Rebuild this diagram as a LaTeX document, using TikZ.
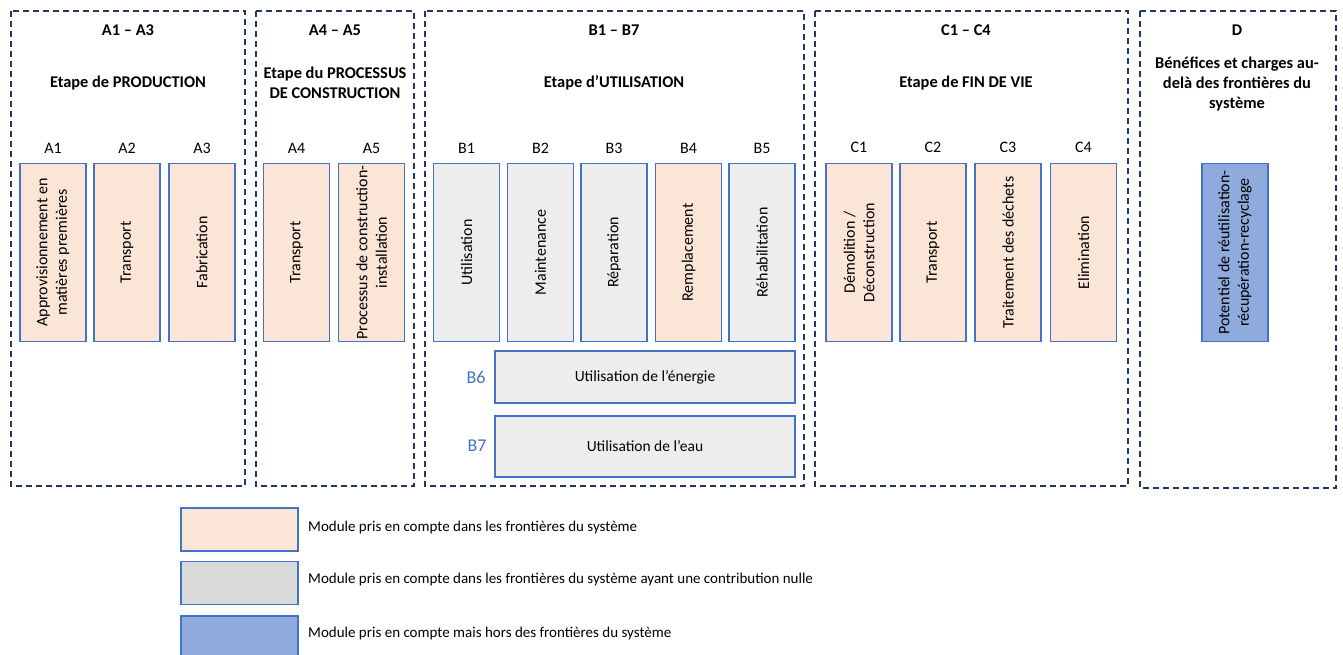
\documentclass[tikz,border=0pt]{standalone}
\usepackage{fontspec}
\setmainfont{Carlito}
\definecolor{peach}{HTML}{FBE5D6}
\definecolor{greymod}{HTML}{EDEDED}
\definecolor{greyleg}{HTML}{D9D9D9}
\definecolor{bluemod}{HTML}{8FAADC}
\definecolor{edgeblue}{HTML}{4472C4}
\definecolor{framecol}{HTML}{203864}
\begin{document}
\begin{tikzpicture}[x=1pt, y=-1pt,
  frame/.style={draw=framecol, line width=1.6pt, dash pattern=on 6pt off 4pt},
  head/.style={font=\fontsize{16.4}{20}\selectfont\bfseries, align=center},
  lab/.style={font=\fontsize{16}{18}\selectfont},
  modbox/.style={draw=edgeblue, line width=1.5pt, rotate=90, minimum width=178pt, minimum height=66pt, align=center, inner sep=1pt, font=\fontsize{16}{19.5}\selectfont},
  wide/.style={draw=edgeblue, line width=1.5pt, fill=greymod, minimum width=300pt, font=\fontsize{15.5}{18}\selectfont},
  legbox/.style={draw=edgeblue, line width=1.5pt, minimum width=117pt, minimum height=43pt},
  legtext/.style={anchor=west, font=\fontsize{15}{17}\selectfont, inner sep=0pt}]
\useasboundingbox (0,0) rectangle (1343,655);
\draw[frame] (11,11) rectangle (245,486);
\draw[frame] (256,11) rectangle (414,486);
\draw[frame] (425,11) rectangle (804,486);
\draw[frame] (815,11) rectangle (1128,486);
\draw[frame] (1140,11) rectangle (1336,488);
\node[head] (hA13) at (128,30) {A1 -- A3};
\node[head] (tA13) at (128,83) {Etape de PRODUCTION};
\node[head] (hA45) at (335,30) {A4 -- A5};
\node[head] (tA45) at (335,83) {Etape du PROCESSUS\\DE CONSTRUCTION};
\node[head] (hB17) at (614,30) {B1 -- B7};
\node[head] (tB17) at (614,83) {Etape d’UTILISATION};
\node[head] (hC14) at (966,30) {C1 -- C4};
\node[head] (tC14) at (966,83) {Etape de FIN DE VIE};
\node[head] (hD) at (1237,30) {D};
\node[head] (tD) at (1237,84) {Bénéfices et charges au-\\delà des frontières du\\système};
\node[lab] (lA1) at (53,148) {A1};
\node[lab] (lA2) at (127,148) {A2};
\node[lab] (lA3) at (202,148) {A3};
\node[lab] (lA4) at (296.5,148) {A4};
\node[lab] (lA5) at (371.5,148) {A5};
\node[lab] (lB1) at (466.5,148) {B1};
\node[lab] (lB2) at (540.5,148) {B2};
\node[lab] (lB3) at (614,148) {B3};
\node[lab] (lB4) at (688.5,148) {B4};
\node[lab] (lB5) at (762,148) {B5};
\node[lab] (lC1) at (859,147) {C1};
\node[lab] (lC2) at (933,147) {C2};
\node[lab] (lC3) at (1008,147) {C3};
\node[lab] (lC4) at (1083.5,147) {C4};
\node[modbox, fill=peach] (mA1) at (53,252.5) {Approvisionnement en\\matières premières};
\node[modbox, fill=peach] (mA2) at (127,252.5) {Transport};
\node[modbox, fill=peach] (mA3) at (202,252.5) {Fabrication};
\node[modbox, fill=peach] (mA4) at (296.5,252.5) {Transport};
\node[modbox, fill=peach] (mA5) at (371.5,252.5) {Processus de construction-\\installation};
\node[modbox, fill=greymod] (mB1) at (466.5,252.5) {Utilisation};
\node[modbox, fill=greymod] (mB2) at (540.5,252.5) {Maintenance};
\node[modbox, fill=greymod] (mB3) at (614,252.5) {Réparation};
\node[modbox, fill=peach] (mB4) at (688.5,252.5) {Remplacement};
\node[modbox, fill=greymod] (mB5) at (762,252.5) {Réhabilitation};
\node[modbox, fill=peach] (mC1) at (859,252.5) {Démolition /\\Déconstruction};
\node[modbox, fill=peach] (mC2) at (933,252.5) {Transport};
\node[modbox, fill=peach] (mC3) at (1008,252.5) {Traitement des déchets};
\node[modbox, fill=peach] (mC4) at (1083.5,252.5) {Elimination};
\node[modbox, fill=bluemod] (mD) at (1235,252.5) {Potentiel de réutilisation-\\récupération-recyclage};
\node[wide, minimum height=52pt] (mB6) at (645,377) {Utilisation de l’énergie};
\node[wide, minimum height=61pt] (mB7) at (645,446.5) {Utilisation de l’eau};
\node[lab, text=edgeblue, font=\fontsize{18}{20}\selectfont] (lB6) at (476,377) {B6};
\node[lab, text=edgeblue, font=\fontsize{18}{20}\selectfont] (lB7) at (477,446) {B7};
\node[legbox, fill=peach] (leg1) at (239.5,529.5) {};
\node[legbox, fill=greyleg] (leg2) at (239.5,583) {};
\node[legbox, fill=bluemod] (leg3) at (239.5,637.5) {};
\node[legtext] (txt1) at (308,527) {Module pris en compte dans les frontières du système};
\node[legtext] (txt2) at (308,579) {Module pris en compte dans les frontières du système ayant une contribution nulle};
\node[legtext] (txt3) at (308,633) {Module pris en compte mais hors des frontières du système};
\end{tikzpicture}
\end{document}
